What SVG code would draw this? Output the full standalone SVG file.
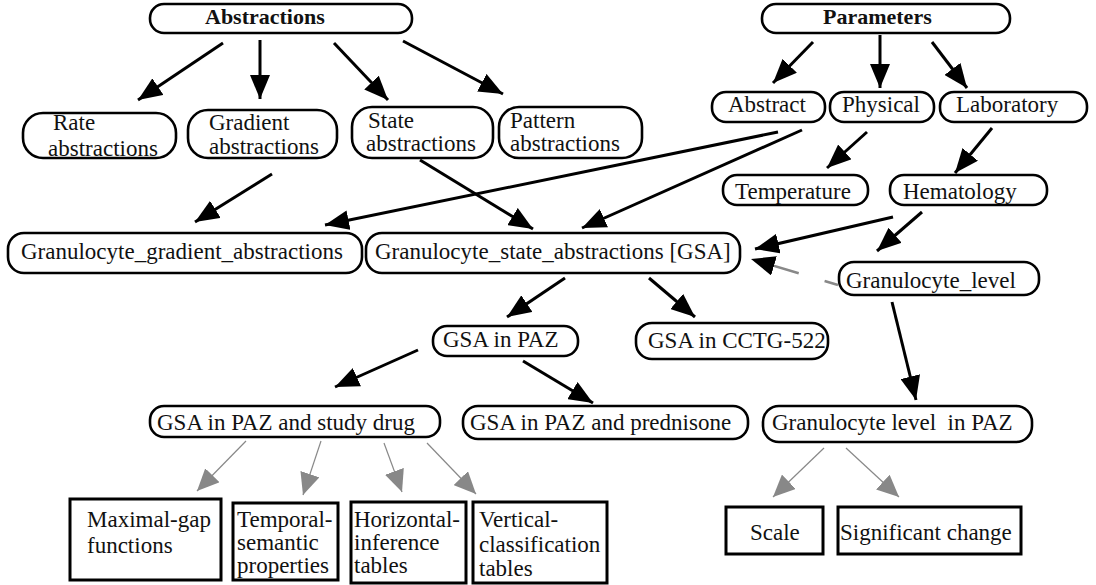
<svg xmlns="http://www.w3.org/2000/svg" width="1096" height="585" viewBox="0 0 1096 585">
<style>
.n{fill:#fff;stroke:#000;stroke-width:2.6}
.b{fill:#fff;stroke:#000;stroke-width:3}
.t{font-family:"Liberation Serif","Times New Roman",serif;font-size:23px;fill:#111}
.h{font-family:"Liberation Serif","Times New Roman",serif;font-size:22px;font-weight:bold;fill:#111}
.a{stroke:#000;stroke-width:3;fill:none}
.g{stroke:#888;stroke-width:1.2;fill:none}
</style>
<defs>
<marker id="ah" markerUnits="userSpaceOnUse" markerWidth="24" markerHeight="20" refX="24" refY="10" orient="auto">
<path d="M0,0 L24,10 L0,20 z" fill="#000"/>
</marker>
<marker id="gh" markerUnits="userSpaceOnUse" markerWidth="22" markerHeight="20" refX="22" refY="10" orient="auto">
<path d="M0,0 L22,10 L0,20 z" fill="#888"/>
</marker>
</defs>
<rect width="1096" height="585" fill="#fff"/>
<g id="connectors">
<line class="a" x1="223" y1="43" x2="138" y2="100" marker-end="url(#ah)"/>
<line class="a" x1="260" y1="40" x2="260" y2="99" marker-end="url(#ah)"/>
<line class="a" x1="334" y1="43" x2="388" y2="100" marker-end="url(#ah)"/>
<line class="a" x1="403" y1="41" x2="503" y2="94" marker-end="url(#ah)"/>
<line class="a" x1="813" y1="42" x2="773" y2="83" marker-end="url(#ah)"/>
<line class="a" x1="880" y1="35" x2="880" y2="88" marker-end="url(#ah)"/>
<line class="a" x1="932" y1="42" x2="967" y2="88" marker-end="url(#ah)"/>
<line class="a" x1="867" y1="132" x2="827" y2="168" marker-end="url(#ah)"/>
<line class="a" x1="992" y1="128" x2="955" y2="173" marker-end="url(#ah)"/>
<line class="a" x1="272" y1="174" x2="195" y2="222" marker-end="url(#ah)"/>
<line class="a" x1="778" y1="132" x2="325" y2="225" marker-end="url(#ah)"/>
<line class="a" x1="802" y1="130" x2="582" y2="228" marker-end="url(#ah)"/>
<line class="a" x1="420" y1="160" x2="533" y2="229" marker-end="url(#ah)"/>
<line class="a" x1="893" y1="217" x2="755" y2="249" marker-end="url(#ah)"/>
<line class="a" x1="922" y1="212" x2="877" y2="251" marker-end="url(#ah)"/>
<line x1="838" y1="285" x2="751" y2="259" stroke="#888" stroke-width="2.5" stroke-dasharray="14 27 40" marker-end="url(#ah)"/>
<line class="a" x1="565" y1="278" x2="507" y2="317" marker-end="url(#ah)"/>
<line class="a" x1="649" y1="278" x2="695" y2="317" marker-end="url(#ah)"/>
<line class="a" x1="418" y1="350" x2="335" y2="387" marker-end="url(#ah)"/>
<line class="a" x1="523" y1="361" x2="593" y2="403" marker-end="url(#ah)"/>
<line class="a" x1="892" y1="302" x2="916" y2="400" marker-end="url(#ah)"/>
<line class="g" x1="246" y1="441" x2="197" y2="491" marker-end="url(#gh)"/>
<line class="g" x1="321" y1="441" x2="303" y2="495" marker-end="url(#gh)"/>
<line class="g" x1="384" y1="443" x2="402" y2="492" marker-end="url(#gh)"/>
<line class="g" x1="427" y1="443" x2="476" y2="494" marker-end="url(#gh)"/>
<line class="g" x1="824" y1="448" x2="773" y2="497" marker-end="url(#gh)"/>
<line class="g" x1="846" y1="448" x2="899" y2="497" marker-end="url(#gh)"/>
</g>
<g id="abstractions"><rect class="n" x="150" y="4" width="262" height="29" rx="14"/><text class="h" x="205" y="24">Abstractions</text></g>
<g id="parameters"><rect class="n" x="762" y="4" width="248" height="29" rx="14"/><text class="h" x="823" y="24">Parameters</text></g>
<g id="rate"><text class="t" x="53" y="130">Rate</text><text class="t" x="48" y="156">abstractions</text><rect class="n" x="23" y="113" width="153" height="45" rx="20" style="fill:none"/></g>
<g id="gradient"><rect class="n" x="188" y="110" width="149" height="48" rx="20"/><text class="t" x="209" y="130">Gradient</text><text class="t" x="209" y="154">abstractions</text></g>
<g id="state"><rect class="n" x="352" y="107" width="141" height="51" rx="20"/><text class="t" x="368" y="128">State</text><text class="t" x="366" y="151">abstractions</text></g>
<g id="pattern"><rect class="n" x="499" y="107" width="143" height="51" rx="20"/><text class="t" x="510" y="128">Pattern</text><text class="t" x="510" y="151">abstractions</text></g>
<g id="abstract"><rect class="n" x="712" y="92" width="113" height="30" rx="14"/><text class="t" x="728" y="112">Abstract</text></g>
<g id="physical"><rect class="n" x="830" y="92" width="104" height="30" rx="14"/><text class="t" x="842" y="112">Physical</text></g>
<g id="laboratory"><rect class="n" x="940" y="92" width="147" height="30" rx="14"/><text class="t" x="956" y="112">Laboratory</text></g>
<g id="temperature"><rect class="n" x="723" y="175" width="145" height="30" rx="14"/><text class="t" x="735" y="199">Temperature</text></g>
<g id="hematology"><rect class="n" x="890" y="175" width="157" height="30" rx="14"/><text class="t" x="903" y="199">Hematology</text></g>
<g id="gran-gradient"><rect class="n" x="8" y="233" width="354" height="40" rx="16"/><text class="t" x="21" y="259">Granulocyte_gradient_abstractions</text></g>
<g id="gsa"><rect class="n" x="366" y="233" width="374" height="40" rx="16"/><text class="t" x="375" y="259">Granulocyte_state_abstractions [GSA]</text></g>
<g id="gran-level"><rect class="n" x="839" y="262" width="200" height="33" rx="15"/><text class="t" x="846" y="288">Granulocyte_level</text></g>
<g id="gsa-paz"><rect class="n" x="433" y="326" width="145" height="30" rx="14"/><text class="t" x="443" y="347">GSA in PAZ</text></g>
<g id="gsa-cctg"><rect class="n" x="636" y="323" width="192" height="36" rx="16"/><text class="t" x="648" y="348">GSA in CCTG-522</text></g>
<g id="gsa-study"><rect class="n" x="150" y="406" width="290" height="31" rx="14"/><text class="t" x="157" y="430">GSA in PAZ and study drug</text></g>
<g id="gsa-pred"><rect class="n" x="463" y="406" width="285" height="33" rx="15"/><text class="t" x="470" y="430">GSA in PAZ and prednisone</text></g>
<g id="gran-level-paz"><rect class="n" x="763" y="406" width="269" height="36" rx="16"/><text class="t" x="772" y="430" style="white-space:pre" xml:space="preserve">Granulocyte level  in PAZ</text></g>
<g id="maximal-gap"><rect class="b" x="70" y="499" width="151" height="81"/><text class="t" x="87" y="527">Maximal-gap</text><text class="t" x="87" y="553">functions</text></g>
<g id="temporal"><rect class="b" x="233" y="503" width="105" height="77"/><text class="t" x="237" y="527">Temporal-</text><text class="t" x="237" y="550">semantic</text><text class="t" x="237" y="573">properties</text></g>
<g id="horizontal"><rect class="b" x="351" y="502" width="115" height="81"/><text class="t" x="354" y="527">Horizontal-</text><text class="t" x="354" y="550">inference</text><text class="t" x="354" y="573">tables</text></g>
<g id="vertical"><rect class="b" x="473" y="502" width="134" height="81"/><text class="t" x="479" y="527">Vertical-</text><text class="t" x="479" y="552">classification</text><text class="t" x="479" y="576">tables</text></g>
<g id="scale"><rect class="b" x="726" y="507" width="97" height="47"/><text class="t" x="750" y="540">Scale</text></g>
<g id="significant"><rect class="b" x="838" y="507" width="183" height="47"/><text class="t" x="840" y="540">Significant change</text></g>
</svg>
